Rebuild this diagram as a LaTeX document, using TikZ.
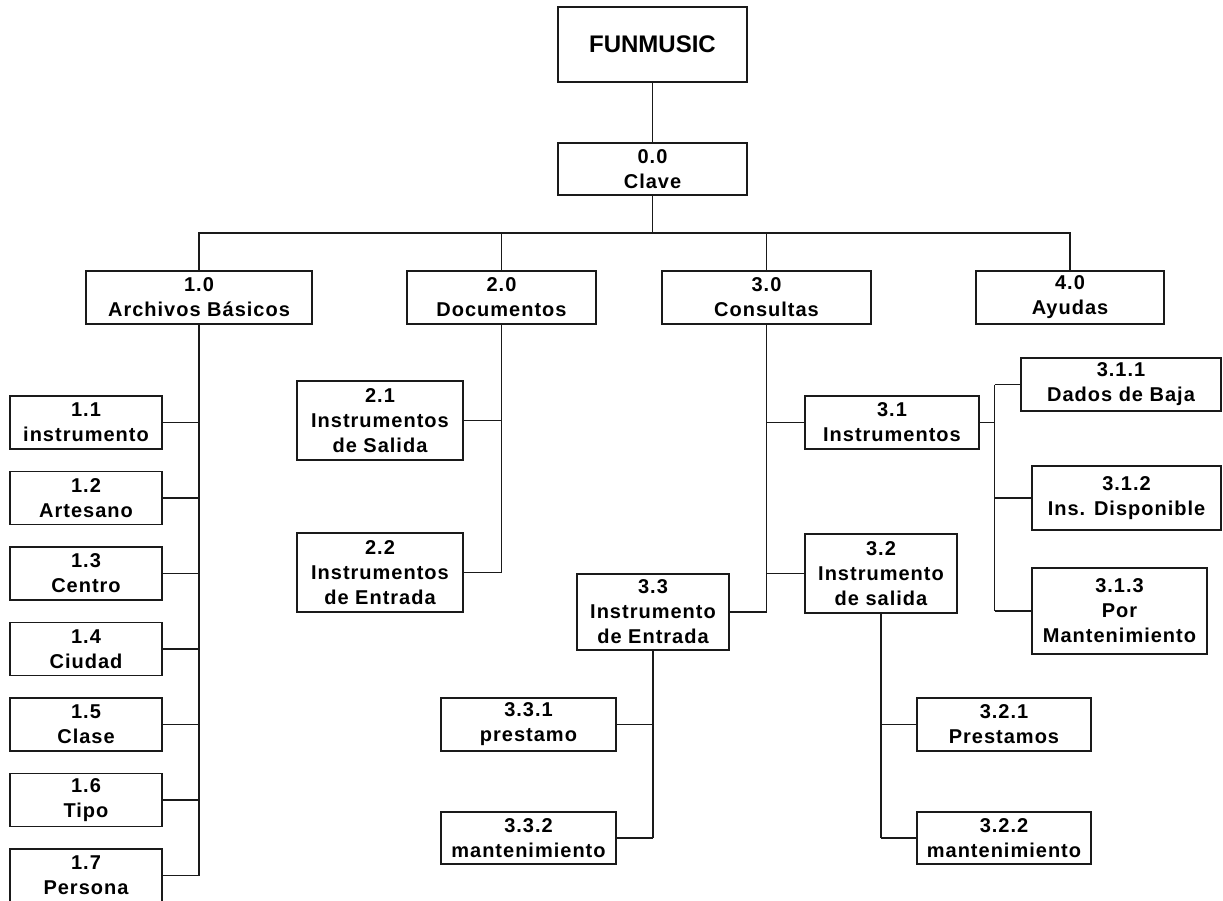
\documentclass[tikz,border=0pt]{standalone}
\usepackage{fontspec}
\setmainfont{Liberation Sans}[LetterSpace=5]
\newfontfamily\titlefont{Liberation Sans}
\usepackage{tikz}
\usetikzlibrary{positioning,calc}
\definecolor{ink}{HTML}{1A1A1A}
\tikzset{box/.style={draw=ink,line width=1.1pt,fill=white,align=center,inner sep=0pt,
    font=\fontsize{20}{25}\selectfont\bfseries},
  link/.style={draw=ink,line width=1.1pt}}
\newcommand{\tbox}[5]{\node[box,minimum width=#3,minimum height=#4] (#1) at #2 {#5};}

\begin{document}
\begin{tikzpicture}[x=1pt,y=-1pt]
    \useasboundingbox[fill=white] (0,0) rectangle (1223,900);
    \node[box,minimum width=189,minimum height=75,font=\titlefont\fontsize{24}{28}\selectfont\bfseries] (fun) at (652.5,44.5) {FUNMUSIC};
    \tbox{clave}{(652.5,169)}{189}{52}{0.0\\Clave}
    \coordinate (bus) at (0,233);
    % primer nivel
    \tbox{arch}{(199,297.5)}{226}{53}{1.0\\Archivos Básicos}
    \tbox{docs}{(501.5,297.5)}{189}{53}{2.0\\Documentos}
    \tbox{cons}{(766.5,297.5)}{209}{53}{3.0\\Consultas}
    \tbox{ayud}{(1070,297.5)}{188}{53}{4.0\\Ayudas}
    \foreach \i/\t [count=\k from 0] in {1/instrumento,2/Artesano,3/Centro,4/Ciudad,5/Clase,6/Tipo,7/Persona}
      \tbox{ab\i}{(86,{422.5+75.5*\k})}{152}{53}{1.\i\\\t}
    \tbox{doc1}{(380,420.5)}{166}{79}{2.1\\Instrumentos\\de Salida}
    \tbox{doc2}{(380,572.5)}{166}{79}{2.2\\Instrumentos\\de Entrada}
    \tbox{con1}{(892,422.5)}{174}{53}{3.1\\Instrumentos}
    \tbox{con2}{(881,573.5)}{152}{79}{3.2\\Instrumento\\de salida}
    \tbox{con3}{(653,612)}{152}{76}{3.3\\Instrumento\\de Entrada}
    \tbox{ins1}{(1121,384.5)}{200}{53}{3.1.1\\Dados de Baja}
    \tbox{ins2}{(1126.5,498)}{189}{64}{3.1.2\\Ins. Disponible}
    \tbox{ins3}{(1119.5,611)}{175}{86}{3.1.3\\Por\\Mantenimiento}
    \tbox{ent1}{(528.5,724.5)}{175}{53}{3.3.1\\prestamo}
    \tbox{ent2}{(528.5,838)}{175}{52}{3.3.2\\mantenimiento}
    \tbox{sal1}{(1004,724.5)}{174}{53}{3.2.1\\Prestamos}
    \tbox{sal2}{(1004,838)}{174}{52}{3.2.2\\mantenimiento}
    % conectores
    \draw[link] (fun) -- (clave);
    \draw[link] (clave) -- (clave |- bus);
    \draw[link] (arch.north) |- (bus -| ayud.north) -- (ayud.north);
    \foreach \n in {docs,cons} \draw[link] (\n) -- (\n |- bus);
    \draw[link] (arch) -- (arch |- ab7);
    \foreach \i in {1,...,7} \draw[link] (ab\i) -- (ab\i -| arch);
    \draw[link] (docs) -- (docs |- doc2);
    \foreach \n in {doc1,doc2} \draw[link] (\n) -- (\n -| docs);
    \draw[link] (cons) -- (cons |- con3);
    \foreach \n in {con1,con2,con3} \draw[link] (\n) -- (\n -| cons);
    \draw[link] (con1.east) -- ++(15,0) coordinate (spine);
    \draw[link] (ins1 -| spine) -- (ins3 -| spine);
    \foreach \n in {ins1,ins2,ins3} \draw[link] (\n) -- (\n -| spine);
    \draw[link] (con3) -- (con3 |- ent2);
    \foreach \n in {ent1,ent2} \draw[link] (\n) -- (\n -| con3);
    \draw[link] (con2) -- (con2 |- sal2);
    \foreach \n in {sal1,sal2} \draw[link] (\n) -- (\n -| con2);
\end{tikzpicture}
\end{document}
